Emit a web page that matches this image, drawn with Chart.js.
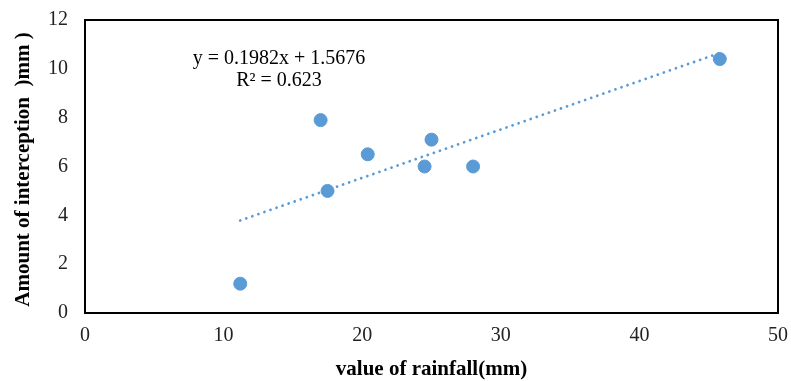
<!DOCTYPE html>
<html>
<head>
<meta charset="utf-8">
<script src="https://cdn.jsdelivr.net/npm/chart.js@4"></script>
<style>
  html, body { margin: 0; padding: 0; background: #fff; }
  #wrap { width: 791px; height: 381px; position: relative; }
</style>
</head>
<body>
<div id="wrap"><canvas id="c" width="791" height="381"></canvas></div>
<script>
// Messpunkte: Niederschlag (mm) gegen Interzeption (mm)
var rainfall = [11.2, 17.0, 17.5, 20.4, 24.5, 25.0, 28.0, 45.8];
var interception = [1.2, 7.9, 5.0, 6.5, 6.0, 7.1, 6.0, 10.4];
var trendX = [11.2, 45.8];
var trendY = [3.79, 10.65];
var xTicks = [0, 10, 20, 30, 40, 50];
var yTicks = [0, 2, 4, 6, 8, 10, 12];
var eqLines = ['y = 0.1982x + 1.5676', 'R² = 0.623'];
var xTitle = 'value of rainfall(mm)';
var yTitle = 'Amount of interception  )mm )';

var BLUE = '#5B9BD5';
var SERIF = '"Liberation Serif", "Times New Roman", serif';

function pts(xs, ys) { return xs.map(function (x, i) { return { x: x, y: ys[i] }; }); }

// Rahmen, Achsentitel und Gleichung selbst zeichnen
var decor = {
  id: 'decor',
  afterDraw: function (chart) {
    var ctx = chart.ctx, a = chart.chartArea;
    ctx.save();
    ctx.strokeStyle = '#000'; ctx.lineWidth = 2;
    ctx.strokeRect(a.left, a.top, a.right - a.left, a.bottom - a.top);

    ctx.fillStyle = '#000';
    ctx.font = 'bold 21px ' + SERIF;
    ctx.textAlign = 'center'; ctx.textBaseline = 'middle';
    ctx.fillText(xTitle, (a.left + a.right) / 2, 370);
    ctx.translate(24, (a.top + a.bottom) / 2 + 3);
    ctx.rotate(-Math.PI / 2);
    ctx.fillText(yTitle, 0, 0);
    ctx.restore();

    ctx.save();
    ctx.fillStyle = '#000';
    ctx.font = '20px ' + SERIF;
    ctx.textAlign = 'center'; ctx.textBaseline = 'middle';
    ctx.fillText(eqLines[0], 279, 59);
    ctx.fillText(eqLines[1], 279, 81);
    ctx.restore();
  }
};

new Chart(document.getElementById('c').getContext('2d'), {
  type: 'scatter',
  data: {
    datasets: [
      { label: 'trend', type: 'line', data: pts(trendX, trendY), borderColor: BLUE, borderWidth: 2.8,
        borderDash: [0.01, 6.4], borderCapStyle: 'round', pointRadius: 0, fill: false, order: 2 },
      { label: 'data', data: pts(rainfall, interception), backgroundColor: BLUE, borderColor: BLUE,
        pointRadius: 6.5, pointHoverRadius: 6.5, order: 1 }
    ]
  },
  options: {
    responsive: false, animation: false, devicePixelRatio: 1,
    layout: { padding: { top: 20, right: 13, left: 0, bottom: 0 } },
    plugins: { legend: { display: false }, tooltip: { enabled: false } },
    scales: {
      x: {
        type: 'linear', min: 0, max: 50,
        afterBuildTicks: function (s) { s.ticks = xTicks.map(function (v) { return { value: v }; }); },
        afterFit: function (s) { s.height = 381 - 313; s.paddingLeft = 0; s.paddingRight = 0; },
        grid: { display: false, drawTicks: false },
        border: { display: false },
        ticks: { padding: 11, color: '#222', font: { family: SERIF, size: 20 } }
      },
      y: {
        type: 'linear', min: 0, max: 12,
        afterBuildTicks: function (s) { s.ticks = yTicks.map(function (v) { return { value: v }; }); },
        afterFit: function (s) { s.width = 85; s.paddingTop = 0; s.paddingBottom = 0; },
        grid: { display: false, drawTicks: false },
        border: { display: false },
        ticks: { padding: 17, color: '#222', font: { family: SERIF, size: 20 } }
      }
    }
  },
  plugins: [decor]
});
</script>
</body>
</html>
